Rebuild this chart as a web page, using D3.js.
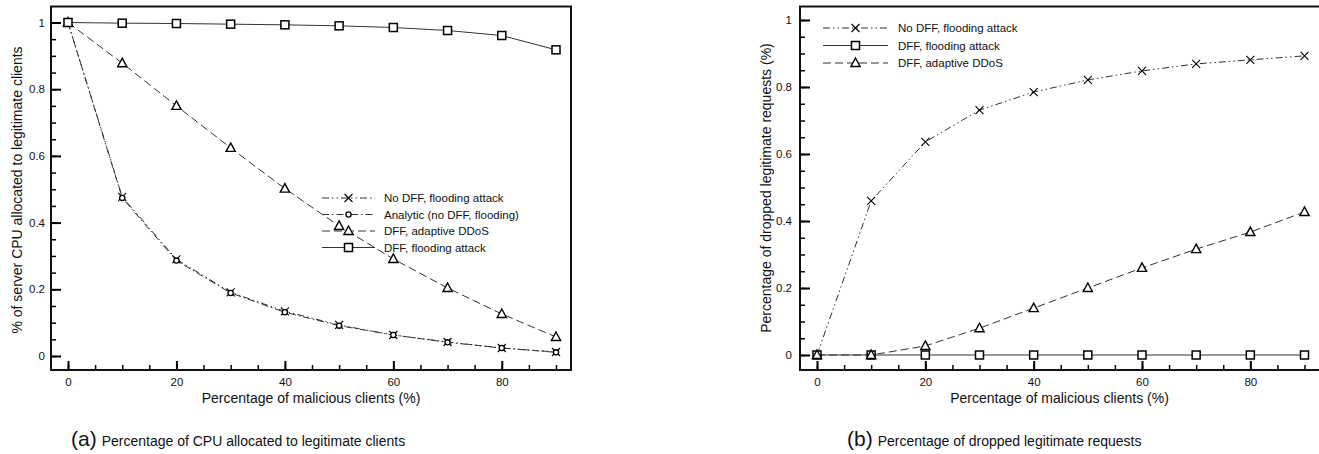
<!DOCTYPE html>
<html>
<head>
<meta charset="utf-8">
<script src="https://cdn.jsdelivr.net/npm/d3@7"></script>
<style>
  body { margin: 0; background: #fff; }
  svg { display: block; font-family: "Liberation Sans", Arial, sans-serif; }
</style>
</head>
<body>
<div id="chart"></div>
<script>
// x values shared by both panels (percentage of malicious clients)
const malicious = [0, 10, 20, 30, 40, 50, 60, 70, 80, 90];
const xTicks = [0, 20, 40, 60, 80];
const xTickLabels = ["0", "20", "40", "60", "80"];
const yTicks = [0, 0.2, 0.4, 0.6, 0.8, 1];
const yTickLabels = ["0", "0.2", "0.4", "0.6", "0.8", "1"];

// panel (a): share of server CPU given to legitimate clients
const cpuNoDffFlood = [1, 0.477, 0.29, 0.191, 0.134, 0.093, 0.063, 0.042, 0.024, 0.012];
const cpuAnalytic   = [1, 0.474, 0.286, 0.189, 0.131, 0.091, 0.063, 0.041, 0.024, 0.011];
const cpuDffAdaptive = [1, 0.878, 0.75, 0.624, 0.502, 0.39, 0.291, 0.204, 0.126, 0.057];
const cpuDffFlood   = [1, 0.998, 0.997, 0.995, 0.993, 0.99, 0.985, 0.976, 0.961, 0.918];

// panel (b): share of dropped legitimate requests
const dropNoDffFlood = [0, 0.46, 0.636, 0.731, 0.785, 0.821, 0.848, 0.869, 0.881, 0.893];
const dropDffFlood   = [0, 0, 0, 0, 0, 0, 0, 0, 0, 0];
const dropDffAdaptive = [0, 0, 0.027, 0.08, 0.14, 0.2, 0.26, 0.316, 0.367, 0.427];

const W = 1319, H = 454;
const svg = d3.select("#chart").append("svg").attr("width", W).attr("height", H);

const styles = {
  noDff:    { dash: "7,3,1.5,3,1.5,3", marker: "cross" },
  analytic: { dash: "7,3,1.5,3", marker: "circle" },
  adaptive: { dash: "8,4", marker: "triangle" },
  flood:    { dash: null, marker: "square" }
};

function drawMarker(g, type, x, y) {
  if (type === "square") {
    g.append("rect").attr("x", x - 4).attr("y", y - 4).attr("width", 8).attr("height", 8)
      .attr("fill", "#fff").attr("stroke", "#000").attr("stroke-width", 1.5);
  } else if (type === "triangle") {
    g.append("path").attr("d", `M${x},${y - 5}L${x + 4.6},${y + 3.5}L${x - 4.6},${y + 3.5}Z`)
      .attr("fill", "#fff").attr("stroke", "#000").attr("stroke-width", 1.4);
  } else if (type === "cross") {
    g.append("path").attr("d", `M${x - 4},${y - 4}L${x + 4},${y + 4}M${x - 4},${y + 4}L${x + 4},${y - 4}`)
      .attr("stroke", "#000").attr("stroke-width", 1.1).attr("fill", "none");
  } else if (type === "circle") {
    g.append("circle").attr("cx", x).attr("cy", y).attr("r", 2.6)
      .attr("fill", "#fff").attr("stroke", "#000").attr("stroke-width", 1.3);
  }
}

function panel(cfg) {
  const g = svg.append("g");
  const x = d3.scaleLinear().domain([0, 90]).range(cfg.xRange);
  const y = d3.scaleLinear().domain([0, 1]).range(cfg.yRange);

  // minor ticks
  g.append("g").attr("transform", `translate(${cfg.frame[0]},0)`)
    .call(d3.axisLeft(y).tickValues(d3.range(0, 1.001, 0.05)).tickSize(-5).tickFormat(""))
    .call(a => a.select(".domain").remove())
    .call(a => a.selectAll("line").attr("stroke-width", 1.5));
  g.append("g").attr("transform", `translate(0,${cfg.frame[3]})`)
    .call(d3.axisBottom(x).tickValues(d3.range(0, 91, 5)).tickSize(-5).tickFormat(""))
    .call(a => a.select(".domain").remove())
    .call(a => a.selectAll("line").attr("stroke-width", 1.5));

  // major ticks with labels
  g.append("g").attr("transform", `translate(${cfg.frame[0]},0)`)
    .call(d3.axisLeft(y).tickValues(yTicks).tickSize(-10).tickPadding(cfg.yPad)
      .tickFormat((d, i) => yTickLabels[i]))
    .call(a => a.select(".domain").remove())
    .call(a => a.selectAll("line").attr("stroke-width", 2))
    .call(a => a.selectAll("text").attr("font-size", 11.5).attr("fill", "#111")
      .attr("font-family", "Liberation Sans, Arial, sans-serif"));
  g.append("g").attr("transform", `translate(0,${cfg.frame[3]})`)
    .call(d3.axisBottom(x).tickValues(xTicks).tickSize(-9).tickPadding(8)
      .tickFormat((d, i) => xTickLabels[i]))
    .call(a => a.select(".domain").remove())
    .call(a => a.selectAll("line").attr("stroke-width", 2))
    .call(a => a.selectAll("text").attr("font-size", 11.5).attr("fill", "#111")
      .attr("font-family", "Liberation Sans, Arial, sans-serif"));

  // frame
  g.append("rect").attr("x", cfg.frame[0]).attr("y", cfg.frame[1])
    .attr("width", cfg.frame[2] - cfg.frame[0]).attr("height", cfg.frame[3] - cfg.frame[1])
    .attr("fill", "none").attr("stroke", "#111").attr("stroke-width", 2);

  // series
  const line = d3.line().x((d, i) => x(malicious[i])).y(d => y(d));
  cfg.series.forEach(s => {
    const st = styles[s.style];
    g.append("path").datum(s.values).attr("d", line).attr("fill", "none")
      .attr("stroke", "#333").attr("stroke-width", 1)
      .attr("stroke-dasharray", st.dash);
  });
  cfg.series.forEach(s => {
    const st = styles[s.style];
    s.values.forEach((v, i) => drawMarker(g, st.marker, x(malicious[i]), y(v)));
  });

  // legend
  const L = cfg.legend;
  cfg.series.slice().sort((a, b) => a.legendRow - b.legendRow).forEach((s, i) => {
    const st = styles[s.style];
    const ly = L.y + i * L.step;
    g.append("line").attr("x1", L.x0).attr("x2", L.x1).attr("y1", ly).attr("y2", ly)
      .attr("stroke", "#333").attr("stroke-width", 1).attr("stroke-dasharray", st.dash);
    drawMarker(g, st.marker, (L.x0 + L.x1) / 2, ly);
    g.append("text").attr("x", L.tx).attr("y", ly).attr("dy", "0.35em")
      .attr("font-size", 11.5).attr("fill", "#111").text(s.name);
  });

  // axis titles
  g.append("text").attr("x", (cfg.frame[0] + Math.min(cfg.frame[2], W)) / 2 + cfg.xTitleShift)
    .attr("y", 403).attr("text-anchor", "middle").attr("font-size", 14).attr("fill", "#111")
    .text("Percentage of malicious clients (%)");
  g.append("text").attr("transform", `translate(${cfg.yTitleX},${cfg.yTitleY}) rotate(-90)`)
    .attr("text-anchor", "middle").attr("font-size", 14).attr("fill", "#111")
    .text(cfg.yTitle);

  // caption
  const cap = g.append("text").attr("x", cfg.capX).attr("y", 446).attr("fill", "#111");
  cap.append("tspan").attr("font-size", 21).text(cfg.capTag);
  cap.append("tspan").attr("font-size", 14).attr("dx", 5).text(cfg.caption);
}

panel({
  frame: [51, 6.5, 571, 370],
  xRange: [68, 556],
  yRange: [356, 22.5],
  yPad: 6,
  series: [
    { name: "No DFF, flooding attack", values: cpuNoDffFlood, style: "noDff", legendRow: 0 },
    { name: "Analytic (no DFF, flooding)", values: cpuAnalytic, style: "analytic", legendRow: 1 },
    { name: "DFF, adaptive DDoS", values: cpuDffAdaptive, style: "adaptive", legendRow: 2 },
    { name: "DFF, flooding attack", values: cpuDffFlood, style: "flood", legendRow: 3 }
  ],
  legend: { x0: 322, x1: 375, tx: 384, y: 198, step: 16.5 },
  xTitleShift: 0,
  yTitle: "% of server CPU allocated to legitimate clients",
  yTitleX: 22, yTitleY: 190,
  capX: 71, capTag: "(a)", caption: "Percentage of CPU allocated to legitimate clients"
});

panel({
  frame: [800, 6.5, 1320, 370],
  xRange: [817, 1304.5],
  yRange: [355, 20],
  yPad: 8,
  series: [
    { name: "No DFF, flooding attack", values: dropNoDffFlood, style: "noDff", legendRow: 0 },
    { name: "DFF, flooding attack", values: dropDffFlood, style: "flood", legendRow: 1 },
    { name: "DFF, adaptive DDoS", values: dropDffAdaptive, style: "adaptive", legendRow: 2 }
  ],
  legend: { x0: 823, x1: 888, tx: 898, y: 28, step: 17.5 },
  xTitleShift: 0,
  yTitle: "Percentage of dropped legitimate requests (%)",
  yTitleX: 771, yTitleY: 188,
  capX: 847, capTag: "(b)", caption: "Percentage of dropped legitimate requests"
});
</script>
</body>
</html>
